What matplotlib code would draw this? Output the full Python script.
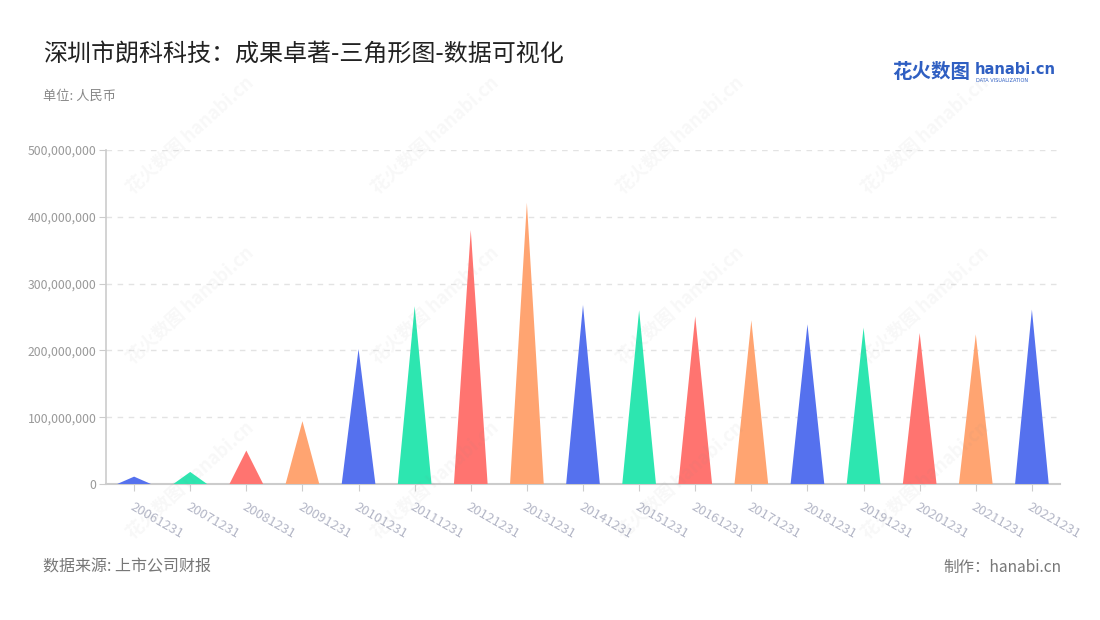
import numpy as np
import matplotlib.pyplot as plt
from matplotlib.ticker import FuncFormatter

plt.rcParams['font.family'] = ['Noto Sans CJK SC', 'DejaVu Sans']

years = ["20061231", "20071231", "20081231", "20091231", "20101231", "20111231",
         "20121231", "20131231", "20141231", "20151231", "20161231", "20171231",
         "20181231", "20191231", "20201231", "20211231", "20221231"]
values = [11e6, 18e6, 50e6, 94e6, 202e6, 266e6, 380e6, 421e6, 268e6, 260e6,
          251e6, 245e6, 239e6, 234e6, 226e6, 224e6, 261e6]
palette = ["#5571EE", "#2DE6B0", "#FF7470", "#FFA471"]

fig = plt.figure(figsize=(11, 6.2), dpi=100)
ax = fig.add_axes([0.0964, 0.2194, 0.8672, 0.5387])

w = 0.6
for i, v in enumerate(values):
	ax.fill([i - w / 2, i, i + w / 2], [0, v, 0], color=palette[i % 4], lw=0, zorder=3)

ax.set_xlim(-0.5, len(years) - 0.5)
ax.set_ylim(0, 500e6)
ax.set_yticks(np.arange(0, 500e6 + 1, 100e6))
ax.yaxis.set_major_formatter(FuncFormatter(lambda y, p: '{:,.0f}'.format(y)))
ax.set_xticks(range(len(years)))
ax.set_xticklabels(years, rotation=-30, ha='left', va='top', rotation_mode='anchor',
                   color='#b3b6c6', fontsize=9.5)
ax.tick_params(axis='x', length=5, color='#cccccc', pad=7)
ax.tick_params(axis='y', length=5, color='#cccccc', labelcolor='#999999', labelsize=8.8, pad=2)

for y in np.arange(100e6, 500e6 + 1, 100e6):
	ax.axhline(y, color='#e3e3e3', lw=1, ls=(0, (4, 4)), zorder=1)

for s in ['top', 'right']:
	ax.spines[s].set_visible(False)
ax.spines['left'].set_color('#cccccc')
ax.spines['bottom'].set_color('#cccccc')
ax.spines['left'].set_linewidth(1.2)
ax.spines['bottom'].set_linewidth(1.5)

# watermarks
for cx in [190, 435, 680, 925]:
	for cy in [135, 305, 480]:
		fig.text(cx / 1100, 1 - cy / 620, '花火数图 hanabi.cn', rotation=42, fontsize=13,
		         fontweight='bold', color='#888888', alpha=0.06, ha='center', va='center', zorder=10)

fig.text(43 / 1100, 1 - 54 / 620, '深圳市朗科科技：成果卓著-三角形图-数据可视化', fontsize=17.3,
         color='#222222', va='center', ha='left')
fig.text(43 / 1100, 1 - 96 / 620, '单位: 人民币', fontsize=9.5, color='#888888', va='center', ha='left')
fig.text(43 / 1100, 1 - 567 / 620, '数据来源: 上市公司财报', fontsize=11.5, color='#777777', va='center', ha='left')
fig.text(1061 / 1100, 1 - 567 / 620, '制作：hanabi.cn', fontsize=11.2, color='#777777', va='center', ha='right')

# logo
fig.text(892 / 1100, 1 - 73 / 620, '花火数图', fontsize=14, fontweight='bold', color='#2f5fc2',
         va='center', ha='left')
fig.text(975 / 1100, 1 - 69 / 620, 'hanabi.cn', fontsize=10.5, fontweight='bold', color='#2f5fc2',
         va='center', ha='left', family='DejaVu Sans')
fig.text(976 / 1100, 1 - 80 / 620, 'DATA VISUALIZATION', fontsize=3.6, color='#2f5fc2',
         va='center', ha='left', family='DejaVu Sans')

fig.savefig('out.png', dpi=100)
